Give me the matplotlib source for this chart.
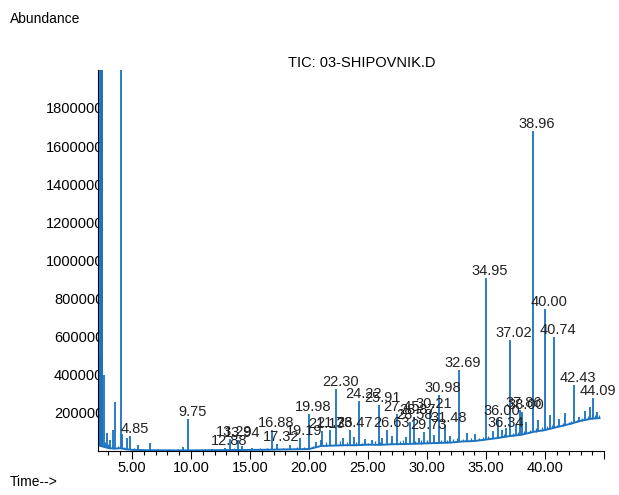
import numpy as np
import matplotlib.pyplot as plt
from matplotlib.ticker import MultipleLocator

plt.rcParams['font.family'] = ['Liberation Sans', 'DejaVu Sans']

# labelled peaks (retention time label, apex abundance)
peak_labels = ['4.85', '9.75', '12.88', '13.29', '13.94', '16.88', '17.32', '19.19',
               '19.98', '21.13', '21.76', '22.30', '23.47', '24.22', '25.91', '26.63',
               '27.45', '28.58', '28.87', '29.73', '30.21', '30.98', '31.48', '32.69',
               '34.95', '36.00', '36.34', '37.02', '37.86', '38.00', '38.96', '40.00',
               '40.74', '42.43', '44.09']
peak_heights = [80000, 168000, 18000, 65000, 58000, 112000, 37000, 68000,
                195000, 105000, 110000, 325000, 110000, 262000, 240000, 110000,
                195000, 150000, 178000, 100000, 210000, 294000, 136000, 425000,
                908000, 173000, 110000, 583000, 215000, 205000, 1680000, 745000,
                600000, 346000, 278000]

# unlabelled peaks (solvent front, small components)
other_times = [2.20, 2.30, 2.36, 2.42, 2.48, 2.60, 2.85, 3.15, 3.40, 3.56, 4.07, 4.12,
               4.55, 5.50, 6.50, 9.30, 11.80, 14.30, 15.20, 18.40, 20.60, 21.00,
               22.90, 23.80, 24.70, 25.30, 26.20, 27.00, 28.20, 29.30, 30.60, 31.90,
               33.40, 34.10, 35.60, 36.70, 37.50, 38.40, 39.40, 40.40, 41.20, 41.70,
               42.90, 43.40, 43.80, 44.40]
other_heights = [504000, 2600000, 2600000, 2600000, 2600000, 400000, 95000, 60000,
                 110000, 257000, 2600000, 90000, 68000, 31000, 42000, 20000, 12000,
                 25000, 18000, 30000, 45000, 60000, 70000, 75000, 65000, 60000, 70000,
                 80000, 75000, 70000, 85000, 80000, 95000, 90000, 105000, 120000,
                 140000, 150000, 160000, 190000, 170000, 200000, 180000, 210000,
                 230000, 205000]

# baseline noise spikes
noise_times = [2.7, 3.0, 3.3, 3.8, 4.3, 5.2, 5.9, 7.2, 8.1, 8.9, 10.4, 11.2, 12.4,
               13.6, 15.8, 16.4, 17.8, 19.0, 19.6, 20.3, 21.4, 22.6, 23.2, 24.0,
               24.5, 25.0, 25.6, 26.0, 26.9, 27.7, 28.0, 29.0, 29.5, 30.0, 31.2,
               31.7, 32.2, 32.5, 33.0, 33.7, 34.4, 34.7, 35.2, 35.9, 36.5, 37.3,
               37.7, 38.2, 38.7, 39.2, 39.7, 40.2, 40.6, 41.0, 41.5, 42.0, 42.2,
               42.7, 43.1, 43.6, 44.0, 44.2, 44.6]
noise_heights = [45000, 38000, 30000, 25000, 22000, 14000, 12000, 9000, 8000, 9000,
                 8000, 9000, 12000, 14000, 15000, 18000, 17000, 22000, 20000, 25000,
                 45000, 50000, 45000, 48000, 42000, 44000, 50000, 46000, 52000, 50000,
                 55000, 54000, 56000, 58000, 58000, 60000, 62000, 66000, 64000, 70000,
                 70000, 74000, 80000, 84000, 88000, 95000, 100000, 105000, 110000,
                 118000, 125000, 130000, 135000, 138000, 148000, 152000, 158000, 165000,
                 172000, 185000, 195000, 190000, 188000]

# baseline (drift) of the total ion current
base_times = [2.1, 2.6, 3.0, 3.5, 4.0, 4.5, 5.0, 6.0, 8.0, 10.0, 12.0, 14.0, 16.0,
              18.0, 20.0, 21.0, 22.0, 23.0, 24.0, 25.0, 26.0, 27.0, 28.0, 29.0,
              30.0, 31.0, 32.0, 33.0, 34.0, 35.0, 36.0, 37.0, 38.0, 39.0, 40.0,
              41.0, 42.0, 43.0, 44.0, 44.6]
base_levels = [30000, 22000, 15000, 12000, 14000, 9000, 6000, 4000, 3000, 3000,
               4000, 5000, 6000, 8000, 10000, 26000, 28000, 30000, 30000, 33000,
               32000, 35000, 36000, 38000, 40000, 42000, 44000, 50000, 52000, 60000,
               68000, 78000, 85000, 100000, 110000, 125000, 140000, 158000, 170000,
               172000]

y_ticks = [200000, 400000, 600000, 800000, 1000000, 1200000, 1400000, 1600000, 1800000]
x_ticks = [5, 10, 15, 20, 25, 30, 35, 40, 45]
x_tick_labels = ['5.00', '10.00', '15.00', '20.00', '25.00', '30.00', '35.00', '40.00', '']

color = '#1a72c0'
peak_times = [float(s) for s in peak_labels]

fig = plt.figure(figsize=(6.19, 4.95), dpi=100)
ax = fig.add_axes([0.158, 0.089, 0.818, 0.770])

ax.plot(base_times, base_levels, color=color, lw=1.4)
all_t = np.array(peak_times + other_times)
all_h = np.array(peak_heights + other_heights)
ax.vlines(all_t, np.interp(all_t, base_times, base_levels), all_h, color=color, lw=1.3)
nt = np.array(noise_times)
ax.vlines(nt, np.interp(nt, base_times, base_levels), noise_heights, color=color, lw=0.9)

for lab, t, h in zip(peak_labels, peak_times, peak_heights):
    ax.annotate(lab, (t, h), xytext=(3, 0), textcoords='offset points',
                ha='center', va='bottom', fontsize=10.5, color='#222222')

ax.set_xlim(2.1, 45.0)
ax.set_ylim(0, 2000000)
ax.set_xticks(x_ticks)
ax.set_xticklabels(x_tick_labels)
ax.xaxis.set_minor_locator(MultipleLocator(1))
ax.set_yticks(y_ticks)
ax.set_yticklabels([str(v) for v in y_ticks])
ax.tick_params(axis='x', which='major', length=6, width=0.8, labelsize=10.5, pad=1)
ax.tick_params(axis='x', which='minor', length=3, width=0.8)
ax.tick_params(axis='y', length=0, labelsize=10.5, pad=-4)

for side in ['top', 'right']:
    ax.spines[side].set_visible(False)
ax.spines['left'].set_linewidth(0.8)
ax.spines['bottom'].set_linewidth(0.8)

fig.text(0.016, 0.962, 'Abundance', fontsize=10, va='center')
fig.text(0.465, 0.872, 'TIC: 03-SHIPOVNIK.D', fontsize=10.5, va='center')
fig.text(0.016, 0.012, 'Time-->', fontsize=10, va='bottom')

fig.savefig('out.png', dpi=100)
